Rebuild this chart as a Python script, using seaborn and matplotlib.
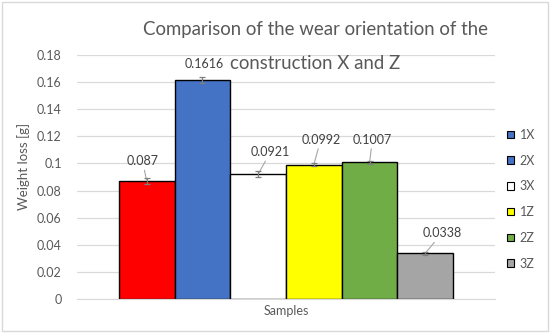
import matplotlib
matplotlib.use("Agg")
import matplotlib.pyplot as plt
import seaborn as sns
import pandas as pd
from matplotlib.patches import Rectangle

# Data
samples = ["1X", "2X", "3X", "1Z", "2Z", "3Z"]
weight_loss = [0.087, 0.1616, 0.0921, 0.0992, 0.1007, 0.0338]
errors = [0.0025, 0.002, 0.002, 0.001, 0.001, 0.001]
colors = ["#ff0000", "#4472c4", "#ffffff", "#ffff00", "#70ad47", "#a5a5a5"]
legend_colors = ["#4472c4", "#4472c4", "#ffffff", "#ffff00", "#70ad47", "#a5a5a5"]
yticks = [0, 0.02, 0.04, 0.06, 0.08, 0.1, 0.12, 0.14, 0.16, 0.18]
ytick_labels = ["0", "0.02", "0.04", "0.06", "0.08", "0.1", "0.12", "0.14", "0.16", "0.18"]
# label centre offsets (points) relative to the bar top
label_offsets = [(-3, 14.5), (1, 11.5), (9, 16), (5, 18), (2, 16.5), (12, 14.5)]
leader = [True, False, True, True, True, True]

df = pd.DataFrame({"group": ["Samples"] * len(samples), "sample": samples,
                   "loss": weight_loss})

sns.set_style("white")
plt.rcParams["font.family"] = ["Lato", "DejaVu Sans"]

fig = plt.figure(figsize=(5.5, 3.33), dpi=100)
ax = fig.add_axes([0.14, 0.102, 0.76, 0.733])

sns.barplot(data=df, x="group", y="loss", hue="sample", hue_order=samples,
            palette=colors, saturation=1, edgecolor="black", linewidth=1.0,
            width=0.8, legend=False, ax=ax)

bars = ax.patches[:len(samples)]
for bar, val, err, off, ld in zip(bars, weight_loss, errors, label_offsets, leader):
    cx = bar.get_x() + bar.get_width() / 2
    ax.errorbar(cx, val, yerr=err, color="#7f7f7f", capsize=2.5,
                elinewidth=0.9, capthick=0.9, zorder=5)
    ax.annotate(f"{val:g}", xy=(cx, val), xytext=off, textcoords="offset points",
                ha="center", va="center", fontsize=9, color="#404040",
                arrowprops=dict(arrowstyle="-", color="#a6a6a6", lw=0.8,
                                shrinkA=0, shrinkB=1) if ld else None)

ax.set_ylim(0, 0.18)
ax.set_xlim(-0.5, 0.5)
ax.set_yticks(yticks)
ax.set_yticklabels(ytick_labels)
ax.yaxis.grid(True, color="#d9d9d9", linewidth=0.9)
ax.set_axisbelow(True)
for s in ["top", "right", "left"]:
    ax.spines[s].set_visible(False)
ax.spines["bottom"].set_color("#d9d9d9")
ax.tick_params(axis="y", length=0, labelsize=9, labelcolor="#595959", pad=11)
ax.tick_params(axis="x", length=0, labelsize=9, labelcolor="#595959", pad=4)
ax.set_xlabel("")
ax.set_ylabel("Weight loss [g]", fontsize=9.5, color="#595959")
ax.yaxis.set_label_coords(-0.112, 0.543)

fig.text(0.573, 0.91, "Comparison of the wear orientation of the",
         ha="center", va="center", fontsize=13.4, color="#595959")
fig.text(0.573, 0.81, "construction X and Z",
         ha="center", va="center", fontsize=13.4, color="#595959")

handles = [Rectangle((0, 0), 1, 1, facecolor=c, edgecolor="black", linewidth=0.8)
           for c in legend_colors]
fig.legend(handles, samples, loc="center left", bbox_to_anchor=(0.913, 0.402),
           borderaxespad=0, frameon=False, fontsize=9, labelcolor="#595959",
           handlelength=0.55, handleheight=0.55, handletextpad=0.45, labelspacing=1.1)

fig.patches.append(Rectangle((0.004, 0.006), 0.992, 0.988, transform=fig.transFigure,
                             fill=False, edgecolor="#d9d9d9", linewidth=1.0))

fig.savefig("out.png", dpi=100)
